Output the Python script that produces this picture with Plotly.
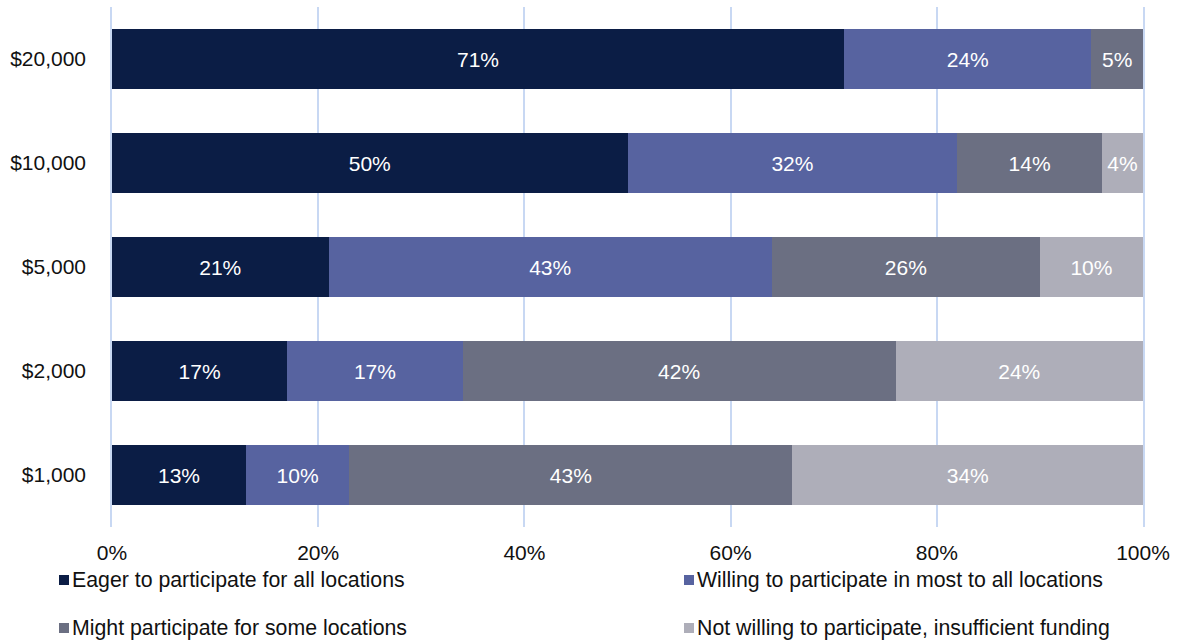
import plotly.graph_objects as go

# Funding levels, bottom to top
levels = ["$1,000", "$2,000", "$5,000", "$10,000", "$20,000"]

eager = [13, 17, 21, 50, 71]
willing = [10, 17, 43, 32, 24]
might = [43, 42, 26, 14, 5]
not_willing = [34, 24, 10, 4, 0]

series_names = [
    "Eager to participate for all locations",
    "Willing to participate in most to all locations",
    "Might participate for some locations",
    "Not willing to participate, insufficient funding",
]
series_values = [eager, willing, might, not_willing]
series_colors = ["#0b1d45", "#5763a0", "#6b6f82", "#aeaeb9"]

tick_vals = [0, 20, 40, 60, 80, 100]
tick_text = ["0%", "20%", "40%", "60%", "80%", "100%"]

FONT = "Liberation Sans, Arial, sans-serif"
FS = 21
LEG_FS = 21.3
GRID = "#c8d8f3"
TXT = "#111111"

W, H = 1177, 640
ML, MR, MT, MB = 112, 34, 7, 113
PW, PH = W - ML - MR, H - MT - MB

fig = go.Figure()
for name, vals, color in zip(series_names, series_values, series_colors):
    fig.add_trace(go.Bar(
        y=levels,
        x=vals,
        name=name,
        orientation="h",
        marker=dict(color=color, line=dict(width=0)),
        text=[f"{v}%" if v > 0 else "" for v in vals],
        textposition="inside",
        insidetextanchor="middle",
        textfont=dict(color="white", size=FS, family=FONT),
        showlegend=False,
    ))

fig.update_layout(
    barmode="stack",
    bargap=0.423,
    width=W,
    height=H,
    margin=dict(l=ML, r=MR, t=MT, b=MB),
    plot_bgcolor="white",
    paper_bgcolor="white",
    font=dict(family=FONT, size=FS, color=TXT),
    uniformtext=dict(minsize=FS, mode="show"),
)
fig.update_xaxes(
    range=[0, 100],
    tickvals=tick_vals,
    ticktext=tick_text,
    showgrid=True,
    gridcolor=GRID,
    gridwidth=1.5,
    zeroline=False,
    showline=False,
    ticklabelstandoff=11,
    tickfont=dict(size=FS, family=FONT, color=TXT),
    fixedrange=True,
)
fig.update_yaxes(
    categoryorder="array",
    categoryarray=levels,
    showgrid=False,
    showline=True,
    linecolor=GRID,
    linewidth=1.5,
    mirror=True,
    ticklabelstandoff=20,
    tickfont=dict(size=FS, family=FONT, color=TXT),
    fixedrange=True,
)


def px_x(px):
    return (px - ML) / PW


def px_y(py):
    return (H - MB - py) / PH


# Two-column legend below the axis
legend_pos = [(59, 580), (684, 580), (59, 628), (684, 628)]
for (px, py), name, color in zip(legend_pos, series_names, series_colors):
    fig.add_shape(
        type="rect", xref="paper", yref="paper",
        x0=px_x(px), x1=px_x(px + 10),
        y0=px_y(py + 5), y1=px_y(py - 5),
        fillcolor=color, line=dict(width=0),
    )
    fig.add_annotation(
        xref="paper", yref="paper",
        x=px_x(px + 11), y=px_y(py),
        text=name, showarrow=False,
        xanchor="left", yanchor="middle",
        font=dict(size=LEG_FS, family=FONT, color=TXT),
    )

fig.write_html("out.html")
